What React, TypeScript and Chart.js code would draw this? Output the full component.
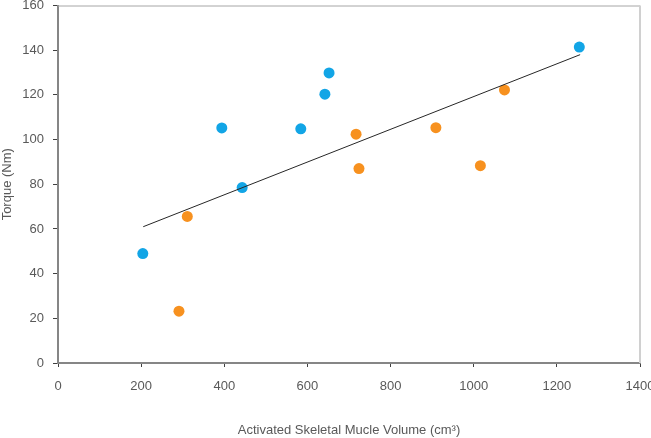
import React, { useEffect, useRef } from "react";
import { Chart, registerables } from "chart.js";

Chart.register(...registerables);

const groupAVolume = [204, 394, 443, 584, 642, 652, 1254];
const groupATorque = [49, 105.2, 78.5, 104.8, 120.3, 129.8, 141.4];
const groupBVolume = [291, 311, 717, 724, 909, 1016, 1074];
const groupBTorque = [23.2, 65.6, 102.4, 87, 105.3, 88.3, 122.2];
const trendVolume = [205, 1256];
const trendTorque = [61, 138];

const xTitle = "Activated Skeletal Mucle Volume (cm³)";
const yTitle = "Torque (Nm)";

const FONT = "'Liberation Sans Narrow', 'Liberation Sans', sans-serif";
const TEXT = "#595959";

const frame = {
  id: "frame",
  beforeDatasetsDraw(chart: any) {
    const { ctx, chartArea } = chart;
    ctx.save();
    ctx.lineWidth = 1;
    ctx.strokeStyle = "#a6a6a6";
    ctx.beginPath();
    ctx.moveTo(chartArea.left, chartArea.top + 0.5);
    ctx.lineTo(chartArea.right, chartArea.top + 0.5);
    ctx.stroke();
    ctx.strokeStyle = "#d0d0d0";
    ctx.lineWidth = 2;
    ctx.beginPath();
    ctx.moveTo(chartArea.right, chartArea.top);
    ctx.lineTo(chartArea.right, chartArea.bottom);
    ctx.stroke();
    ctx.restore();
  },
};

export default function App() {
  const ref = useRef<HTMLCanvasElement>(null);
  useEffect(() => {
    if (!ref.current) return;
    const toPts = (xs: number[], ys: number[]) => xs.map((x, i) => ({ x, y: ys[i] }));
    const chart = new Chart(ref.current, {
      type: "scatter",
      data: {
        datasets: [
          {
            type: "line",
            data: toPts(trendVolume, trendTorque),
            borderColor: "#262626",
            borderWidth: 1,
            pointRadius: 0,
            fill: false,
          } as any,
          {
            data: toPts(groupAVolume, groupATorque),
            backgroundColor: "#12a5e6",
            borderColor: "#12a5e6",
            pointRadius: 5.5,
            borderWidth: 0,
          },
          {
            data: toPts(groupBVolume, groupBTorque),
            backgroundColor: "#f7911f",
            borderColor: "#f7911f",
            pointRadius: 5.5,
            borderWidth: 0,
          },
        ],
      },
      options: {
        animation: false,
        responsive: false,
        layout: { padding: { left: 0, right: 11, top: 4, bottom: 0 } },
        plugins: { legend: { display: false }, tooltip: { enabled: false } },
        scales: {
          x: {
            type: "linear",
            min: 0,
            max: 1400,
            ticks: {
              stepSize: 200,
              color: TEXT,
              font: { family: FONT, size: 13 },
              padding: 12,
              maxRotation: 0,
              callback: (v: any) => String(v),
            },
            grid: { drawOnChartArea: false, drawTicks: true, tickLength: 4, color: "#404040" },
            border: { display: true, color: "#868686", width: 2 },
            title: { display: true, text: xTitle, color: TEXT, font: { family: FONT, size: 13 }, padding: { top: 0, bottom: 0 } },
            afterFit: (s: any) => {
              s.height = 75;
              s.paddingLeft = 0;
              s.paddingRight = 0;
            },
          },
          y: {
            type: "linear",
            min: 0,
            max: 160,
            ticks: { stepSize: 20, color: TEXT, font: { family: FONT, size: 13 }, padding: 9, callback: (v: any) => String(v) },
            grid: { drawOnChartArea: false, drawTicks: true, tickLength: 5, color: "#404040" },
            border: { display: true, color: "#868686", width: 2 },
            title: { display: true, text: yTitle, color: TEXT, font: { family: FONT, size: 13 }, padding: { top: 0, bottom: 0 } },
            afterFit: (s: any) => {
              s.width = 58;
              s.paddingTop = 0;
              s.paddingBottom = 0;
            },
          },
        },
      },
      plugins: [frame],
    } as any);
    return () => chart.destroy();
  }, []);
  return (
    <div style={{ position: "fixed", left: 0, top: 0, width: 651, height: 438, background: "#fff" }}>
      <canvas ref={ref} width={651} height={438} style={{ display: "block" }} />
    </div>
  );
}
